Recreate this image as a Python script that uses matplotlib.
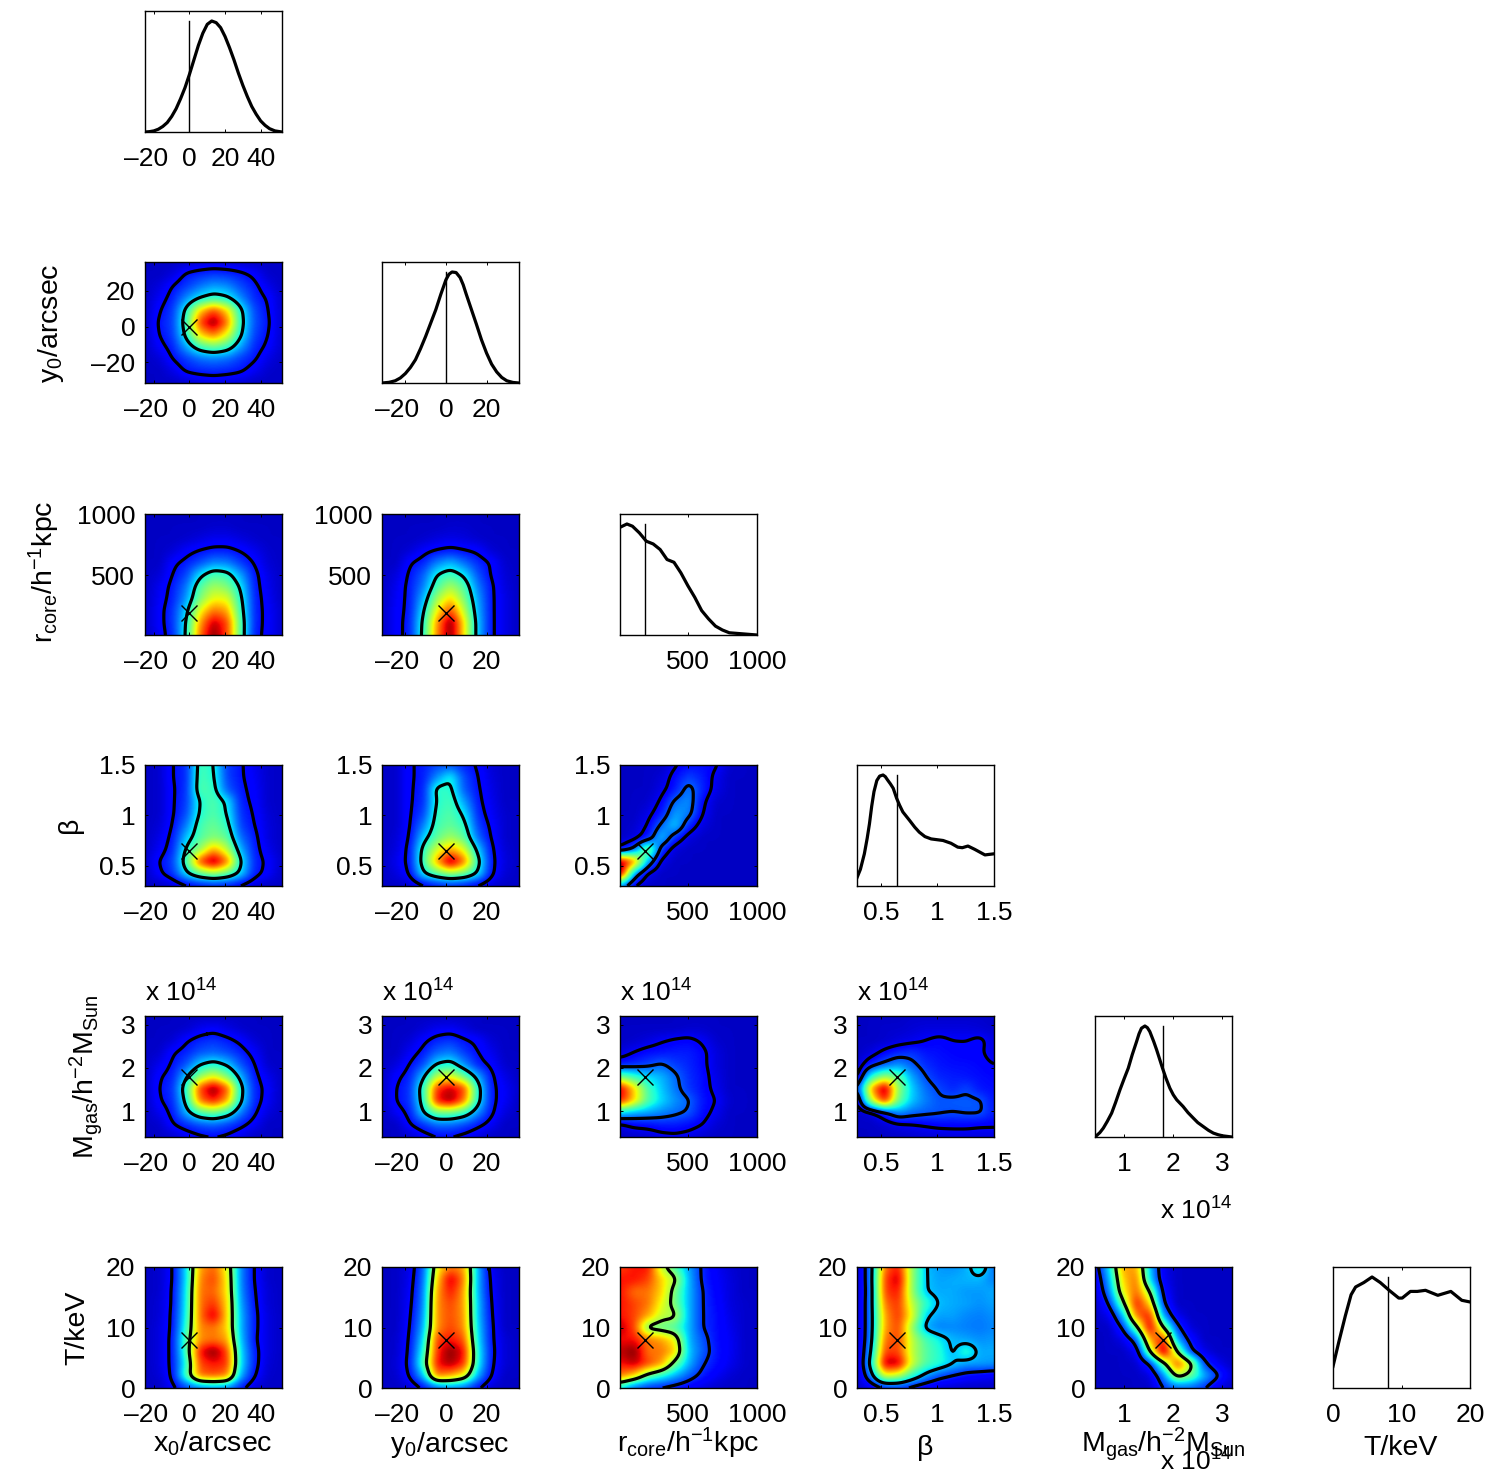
import numpy as np
import matplotlib
matplotlib.use('Agg')
from matplotlib import pyplot as plt
from matplotlib.colors import PowerNorm
from matplotlib.transforms import ScaledTranslation

plt.rcParams['font.family'] = ['Liberation Sans', 'DejaVu Sans']
plt.rcParams['mathtext.fontset'] = 'custom'
plt.rcParams['mathtext.rm'] = 'Liberation Sans'
plt.rcParams['mathtext.default'] = 'regular'

W, H = 1495, 1479
FS = 19
FS_NAME = 20.5

# parameter names, ranges, ticks, true values
names = ['x$_0$/arcsec', 'y$_0$/arcsec', 'r$_{core}$/h$^{-1}$kpc', '\u03b2',
         'M$_{gas}$/h$^{-2}$M$_{Sun}$', 'T/keV']
limits = [(-25, 52), (-31.5, 36), (10, 1000), (0.29, 1.5), (0.4, 3.2), (0, 20)]
ticks = [[-20, 0, 20, 40], [-20, 0, 20], [500, 1000], [0.5, 1, 1.5], [1, 2, 3], [0, 10, 20]]
ticklabels = [['\u201320', '0', '20', '40'], ['\u201320', '0', '20'], ['500', '1000'],
              ['0.5', '1', '1.5'], ['1', '2', '3'], ['0', '10', '20']]
truth = [0, 0, 188, 0.645, 1.78, 8]

# marginals
x0_vals = [-25, -22.5, -20, -17.5, -15, -12.5, -10, -7.5, -5, -2.5, 0, 2.5, 5, 7.5, 10, 12.5, 15, 17.5, 20,
           22.5, 25, 27.5, 30, 32.5, 35, 37.5, 40, 42.5, 45, 48, 52]
x0_prob = [0, .003, .01, .025, .05, .085, .14, .21, .3, .4, .52, .65, .78, .89, .97, 1, .985, .94, .86,
           .76, .65, .53, .42, .32, .23, .16, .1, .06, .03, .01, 0]
y0_vals = [-31.5, -28, -25, -22.5, -20, -17.5, -15, -12.5, -10, -7.5, -5, -2.5, 0, 1.5, 3, 5, 7, 8.5, 10,
           12.5, 15, 17.5, 20, 22.5, 25, 27.5, 30, 33, 36]
y0_prob = [0, .006, .02, .045, .085, .14, .21, .31, .42, .54, .66, .8, .93, .98, 1, .995, .95, .885, .8,
           .665, .53, .39, .27, .17, .1, .05, .02, .005, 0]
r_vals = [10, 60, 100, 150, 200, 250, 300, 350, 400, 450, 500, 550, 600, 650, 700, 750, 800, 900, 1000]
r_prob = [.97, 1, .98, .92, .845, .82, .77, .68, .655, .56, .445, .34, .22, .145, .08, .045, .02, .01, 0]
beta_vals = [.29, .32, .355, .38, .40, .42, .44, .465, .49, .52, .54, .56, .585, .61, .64, .665, .695, .755,
             .80, .84, .89, .945, 1.05, 1.12, 1.18, 1.22, 1.27, 1.33, 1.42, 1.46, 1.5]
beta_prob = [.075, .15, .29, .43, .56, .72, .85, .95, .99, 1, .985, .955, .92, .88, .79, .73, .667, .59,
             .53, .485, .445, .424, .41, .385, .35, .345, .36, .33, .28, .285, .29]
m_vals = [.4, .5, .57, .65, .74, .82, .91, 1, 1.08, 1.16, 1.25, 1.3, 1.35, 1.42, 1.47, 1.52, 1.6, 1.66, 1.78,
          1.85, 1.93, 2, 2.07, 2.2, 2.3, 2.41, 2.5, 2.61, 2.72, 2.82, 2.92, 3.02, 3.2]
m_prob = [0, .04, .08, .14, .215, .31, .425, .53, .62, .74, .86, .93, .98, 1, .985, .95, .86, .785, .62,
          .53, .44, .38, .335, .275, .22, .17, .13, .095, .06, .035, .02, .01, 0]
t_vals = [0, .83, 1.8, 2.64, 3.3, 4.5, 5.7, 6.9, 8.2, 9.6, 10.1, 11.3, 12.3, 13.5, 15.3, 17.2, 18.8, 20]
t_prob = [.195, .41, .65, .84, .91, .95, 1, .95, .88, .81, .81, .87, .87, .88, .835, .87, .79, .775]

marg_x = [x0_vals, y0_vals, r_vals, beta_vals, m_vals, t_vals]
marg_y = [x0_prob, y0_prob, r_prob, beta_prob, m_prob, t_prob]

y0_x0 = [
    [0, 0, 0, .1, .2, .3, .2, .1, 0, 0, 0],
    [0, 0, .3, 1.1, 1.4, 1.6, 1.5, 1.2, .8, .1, 0],
    [0, .3, 1, 1.6, 2.3, 2.8, 2.6, 1.8, 1.2, .5, 0],
    [0, .6, 1.3, 2.6, 3.7, 4.3, 3.9, 2.6, 1.4, .9, .1],
    [0, .9, 1.6, 4, 7, 8.5, 7, 3.9, 1.8, 1, .1],
    [0, 1.1, 1.7, 4.4, 8.5, 10, 8, 4.1, 1.9, 1.1, .1],
    [0, 1, 1.6, 4, 7, 8, 6.5, 3.8, 1.7, 1, .1],
    [0, .7, 1.3, 2.9, 4.4, 5, 4.4, 2.8, 1.4, .8, .1],
    [0, .2, 1, 1.6, 2.2, 2.4, 2.2, 1.6, 1.1, .4, 0],
    [0, 0, .4, 1.1, 1.3, 1.4, 1.3, 1.1, .6, .1, 0],
    [0, 0, 0, .1, .3, .4, .3, .2, 0, 0, 0]]
r_x0 = [
    [0, 0, 0, 0, 0, 0, 0, 0, 0, 0, 0],
    [0, 0, 0, 0, 0, .1, .1, 0, 0, 0, 0],
    [0, 0, 0, .1, .3, .5, .5, .3, .1, 0, 0],
    [0, 0, .2, .7, 1, 1.2, 1.2, .9, .5, .1, 0],
    [0, 0, .8, 1.2, 1.8, 2.5, 2.4, 1.6, .9, .2, 0],
    [0, .2, 1, 1.7, 3.5, 4.5, 4.2, 2.8, 1.2, .4, 0],
    [0, .5, 1.2, 2.3, 4.6, 5.6, 5.2, 3.6, 1.3, .5, 0],
    [0, .6, 1.3, 2.7, 5.2, 6.5, 6.4, 4, 1.4, .6, 0],
    [0, .7, 1.5, 3.4, 6.5, 8, 7.5, 4.3, 1.4, .7, .1],
    [0, .7, 1.5, 3.8, 7.5, 9.5, 8.5, 4.6, 1.4, .7, .1],
    [0, .6, 1.4, 3.9, 8, 10, 8.5, 4.6, 1.3, .7, .1]]
r_y0 = [
    [0, 0, 0, 0, 0, 0, 0, 0, 0, 0, 0],
    [0, 0, 0, 0, 0, .1, .1, 0, 0, 0, 0],
    [0, 0, 0, .1, .3, .4, .3, .1, 0, 0, 0],
    [0, 0, .2, .7, 1, 1.2, 1, .8, .2, 0, 0],
    [0, 0, .9, 1.3, 2.4, 3, 2.2, 1.4, .9, .1, 0],
    [0, .3, 1.1, 2, 3.8, 4.4, 3.6, 1.9, .9, .2, 0],
    [0, .5, 1.2, 2.4, 4.5, 5.7, 4.6, 2.4, 1.1, .3, 0],
    [0, .6, 1.2, 3, 5.6, 7, 5.2, 2.8, 1.1, .4, 0],
    [0, .7, 1.2, 3.6, 6.6, 8.5, 6, 3, 1.1, .4, 0],
    [0, .7, 1.3, 4, 7.6, 10, 6.8, 3.2, 1.1, .4, 0],
    [0, .7, 1.3, 4.1, 7.8, 10, 6.8, 3.2, 1.1, .4, 0]]
beta_x0 = [
    [0, .1, 1, 1.4, 4.4, 3.9, 1.6, 1.1, .5, .1, 0],
    [0, .1, 1, 1.4, 4.5, 4, 1.7, 1.1, .6, .1, 0],
    [0, .1, .9, 1.5, 4.6, 4.2, 2, 1.2, .7, .1, 0],
    [0, .1, .9, 1.6, 3.9, 4.6, 3.6, 1.3, .8, .1, 0],
    [0, .1, .9, 1.8, 4, 4.6, 3.8, 1.5, .9, .2, 0],
    [0, .2, 1, 2.4, 4.4, 4.9, 4.2, 1.7, 1, .3, 0],
    [0, .4, 1.2, 3.2, 4.6, 5.2, 4.8, 2.2, 1.2, .3, 0],
    [0, .6, 1.4, 4, 5.5, 7.5, 6, 3, 1.3, .5, 0],
    [.1, 1, 1.7, 4.5, 8.5, 10, 8, 3.8, 1.4, .8, .1],
    [0, .8, 1.5, 3.5, 4.8, 5.5, 4.8, 3.4, 1.3, .7, 0],
    [0, 0, .2, .7, 1, 1.2, 1.1, .7, .2, 0, 0]]
beta_y0 = [
    [0, .1, .9, 1.2, 1.7, 1.9, 1.3, .9, .2, 0, 0],
    [0, .1, .9, 1.2, 2.6, 3.8, 1.8, 1, .3, 0, 0],
    [0, .1, .9, 1.3, 4.2, 4.1, 2, 1.1, .4, 0, 0],
    [0, .1, .9, 1.4, 4, 4.4, 2.8, 1.2, .5, 0, 0],
    [0, .1, .9, 1.7, 4.2, 4.6, 3.6, 1.4, .6, .1, 0],
    [0, .1, .9, 2.4, 4.4, 4.8, 4.2, 1.7, .8, .1, 0],
    [0, .2, 1, 3.3, 4.8, 5.6, 4.8, 2.2, .9, .1, 0],
    [0, .3, 1.2, 4.2, 6.2, 7.5, 6.4, 3.4, 1.1, .2, 0],
    [0, .5, 1.2, 4.4, 7.5, 10, 8, 4.2, 1.2, .3, 0],
    [0, .3, 1, 3.6, 4.7, 5.5, 5, 3.6, 1.1, .2, 0],
    [0, 0, .1, .7, 1.1, 1.3, 1.1, .7, .2, 0, 0]]
beta_r = [
    [0, 0, 0, 0, .6, 1, 1, .8, .1, 0, 0],
    [0, 0, 0, .2, 1, 1.7, 1.2, .5, 0, 0, 0],
    [0, 0, 0, .4, 1.2, 2.4, 1.3, .4, 0, 0, 0],
    [0, 0, .1, .8, 2.2, 2.6, .9, .1, 0, 0, 0],
    [0, 0, .4, 1.2, 2.8, 2.4, .7, 0, 0, 0, 0],
    [0, .1, .7, 2.2, 3.3, 1.3, .3, 0, 0, 0, 0],
    [0, .3, 1.2, 3.2, 1.4, .3, 0, 0, 0, 0, 0],
    [.9, 2.2, 5.5, 1.5, .2, 0, 0, 0, 0, 0, 0],
    [10, 8, 3, .4, 0, 0, 0, 0, 0, 0, 0],
    [10, 2.8, .5, 0, 0, 0, 0, 0, 0, 0, 0],
    [2.5, .6, 0, 0, 0, 0, 0, 0, 0, 0, 0]]
m_x0 = [
    [0, 0, 0, 0, 0, 0, 0, 0, 0, 0, 0],
    [0, 0, 0, .1, .5, .7, .4, .1, 0, 0, 0],
    [0, 0, .2, .9, 1.3, 1.5, 1.2, .8, .2, 0, 0],
    [0, .1, .9, 1.3, 1.9, 2.1, 1.8, 1.3, .7, 0, 0],
    [0, .5, 1.1, 1.9, 3.4, 4, 3.3, 1.9, 1, .1, 0],
    [0, .9, 1.3, 3.3, 5.5, 6.5, 5.2, 3, 1.2, .5, 0],
    [0, 1, 1.5, 4.3, 8.5, 10, 8.3, 3.8, 1.4, .7, 0],
    [0, .9, 1.4, 3.8, 8, 9, 7.5, 3.6, 1.4, .6, 0],
    [0, .5, 1.2, 3, 4.5, 5, 4.2, 2.4, 1.1, .3, 0],
    [0, .1, .9, 1.4, 1.9, 2.1, 1.7, 1.2, .6, 0, 0],
    [0, 0, .1, .5, .8, .9, .8, .4, 0, 0, 0]]
m_y0 = [
    [0, 0, 0, 0, 0, 0, 0, 0, 0, 0, 0],
    [0, 0, 0, .2, .5, .6, .3, 0, 0, 0, 0],
    [0, 0, .2, .8, 1.3, 1.5, 1.1, .8, .2, 0, 0],
    [0, 0, .6, 1.2, 2.1, 2.4, 1.6, 1, .5, 0, 0],
    [0, .3, 1, 1.8, 3.6, 4, 2.6, 1.3, .8, .1, 0],
    [0, .8, 1.3, 3.2, 6, 6.5, 5, 3, 1.1, .4, 0],
    [0, 1, 1.5, 4.2, 8.7, 9.5, 8.5, 4, 1.2, .6, .1],
    [0, 1, 1.5, 4, 9, 9.8, 8, 3.9, 1.2, .6, 0],
    [0, .6, 1.2, 3.4, 5, 5, 4.3, 2.6, 1.1, .3, 0],
    [0, 0, .9, 1.5, 2.2, 2.2, 1.8, 1.2, .6, 0, 0],
    [0, 0, .1, .6, .9, .9, .7, .3, 0, 0, 0]]
m_r = [
    [0, 0, 0, 0, 0, 0, 0, 0, 0, 0, 0],
    [0, 0, 0, 0, 0, .1, .1, 0, 0, 0, 0],
    [0, .1, .3, .6, .8, .9, .6, .1, 0, 0, 0],
    [.3, .7, 1, 1.1, 1.2, 1.2, .9, .3, 0, 0, 0],
    [1.2, 1.4, 1.7, 2.1, 1.6, 1.3, .9, .3, 0, 0, 0],
    [5, 4.2, 3.4, 3, 2.2, 1.4, 1, .4, 0, 0, 0],
    [9.5, 7, 4.5, 3.2, 2.3, 1.5, 1, .5, 0, 0, 0],
    [9, 7, 4.6, 3.4, 2.6, 2.1, 1.1, .7, .1, 0, 0],
    [3.5, 3, 2.8, 2.5, 2.2, 1.9, 1, .5, 0, 0, 0],
    [.4, .9, 1, 1.2, 1.2, 1, .7, .2, 0, 0, 0],
    [0, 0, .1, .4, .5, .4, .1, 0, 0, 0, 0]]
m_beta = [
    [0, 0, 0, 0, .1, .1, .1, .1, .1, .1, 0],
    [0, 0, .1, .1, .2, .3, .3, .3, .3, .2, .1],
    [0, 0, .1, .3, .45, .7, .9, .7, .7, .9, .3],
    [0, .3, .9, 1.3, 1.5, 1.1, 1, .9, .8, .8, .4],
    [.1, 1.3, 2, 2.6, 2, 1.4, 1.1, 1, 1, .9, .7],
    [.3, 4, 5.5, 4.8, 2.8, 1.8, 1.3, 1.2, 1.1, 1, .9],
    [1.5, 7.5, 10, 5.5, 3.3, 2.2, 1.7, 1.3, 1.7, 1.1, 1],
    [.4, 6, 9, 5, 3.2, 2.4, 1.9, 2, 2, 1.9, 1.1],
    [.1, .3, 1.3, 2.6, 2.2, 2, 1.9, 1.8, 1.9, 1.9, 1.2],
    [0, 0, .2, .5, .6, .75, .9, .9, .9, .8, .8],
    [0, 0, 0, 0, .1, .2, .2, .3, .3, .3, .3]]
t_x0 = [
    [0, .1, .9, 3.5, 7.5, 8.2, 6.5, 2.5, .9, .1, 0],
    [0, .1, .9, 3.5, 7.8, 8.5, 6.7, 2.5, .9, .1, 0],
    [0, .1, 1, 3.7, 8, 8.2, 6.8, 2.6, 1, .2, 0],
    [0, .2, 1, 3.8, 8, 8.7, 7, 2.8, 1.1, .2, 0],
    [0, .2, 1.1, 3.9, 8, 9.5, 7, 3, 1.2, .3, 0],
    [0, .3, 1.1, 4.2, 7.8, 8, 7, 3, 1.2, .3, 0],
    [0, .3, 1.2, 4.7, 7.7, 8, 7.5, 3.2, 1.1, .3, 0],
    [0, .3, 1.2, 4.5, 9, 10, 8.5, 3.5, 1.3, .3, 0],
    [0, .3, 1.2, 4, 8.5, 9, 8.7, 3.6, 1.3, .2, 0],
    [0, .2, 1.1, 4.5, 8, 8.3, 7.8, 3, 1, .1, 0],
    [0, 0, .7, 1.6, 2.2, 2.5, 2.3, 1.2, .2, 0, 0]]
t_y0 = [
    [0, 0, .4, 2, 6.5, 8, 7.5, 3, .5, 0, 0],
    [0, 0, .5, 2.2, 7, 9.5, 7.8, 3, .7, 0, 0],
    [0, 0, .6, 2.4, 7.5, 9, 7.5, 3, .8, 0, 0],
    [0, 0, .7, 2.5, 7.7, 8.5, 7.5, 3.2, .9, 0, 0],
    [0, 0, .8, 2.7, 7.7, 8.4, 7.6, 3.2, 1, 0, 0],
    [0, 0, .9, 3, 7.7, 8.5, 7.7, 3.4, 1.1, 0, 0],
    [0, .1, 1, 3.5, 8.5, 9, 8.3, 3.6, 1.1, .2, 0],
    [0, .1, 1.1, 4, 8.7, 10, 9, 3.9, 1.2, .2, 0],
    [0, .2, 1.2, 4.5, 9, 9.7, 8.7, 3.9, 1.1, .2, 0],
    [0, .1, 1, 3.2, 8, 7.5, 6.5, 3, .9, 0, 0],
    [0, 0, .2, 1, 1.9, 2.4, 2, 1, .1, 0, 0]]
t_r = [
    [8.5, 9, 9, 6, 4.5, 2.8, 1.3, .6, .2, 0, 0],
    [9, 9, 8.5, 7, 5.8, 3, 1.3, .7, .3, 0, 0],
    [9, 8, 8, 7, 5, 3, 1.5, .8, .3, 0, 0],
    [9, 8.5, 8, 6.5, 5, 3, 1.5, .9, .3, .1, 0],
    [9, 8.5, 7.5, 6, 5.8, 3, 1.5, 1, .4, .1, 0],
    [9.5, 8.5, 5, 4.8, 4.5, 3, 1.5, 1, .5, .1, 0],
    [9, 9, 8, 7.5, 6.5, 3, 1.9, 1, .6, .1, 0],
    [9.5, 10, 8, 8, 7, 3.2, 2, 1.1, .6, .1, 0],
    [9, 9.5, 8.5, 7.5, 5, 3, 1.6, 1, .5, .1, 0],
    [8, 7, 5, 4, 3, 2, 1.2, .6, .2, 0, 0],
    [3.5, 2, 1.4, 1.2, 1, .7, .3, .1, 0, 0, 0]]
t_beta = [
    [0, 2.5, 8, 9, 5.5, 3.2, 2.7, 2.6, 2.9, 4, 2.2],
    [0, 2.5, 8.5, 9.5, 5.5, 3.2, 2.8, 2.9, 3, 3, 2.4],
    [0, 2.4, 8.5, 9, 5.5, 3.2, 2.9, 2.9, 2.7, 2.7, 2.9],
    [0, 2.5, 8, 8.7, 6, 4.2, 3.1, 2.9, 2.8, 2.6, 2.8],
    [0, 2.5, 7.5, 8.7, 6.5, 3.4, 2.8, 2.8, 2.5, 2.4, 2.6],
    [0, 2.5, 7.5, 8.5, 5.5, 2.9, 2.4, 2.5, 2.4, 2.3, 2.5],
    [0, 2.6, 8, 8.5, 6, 4.5, 3.7, 3, 2.8, 2.6, 2.7],
    [0, 3, 8.5, 8.5, 6, 4.7, 4, 3, 4.2, 2.9, 2.9],
    [0, 3.5, 9.5, 9.5, 6.2, 4.6, 4, 3.3, 2.8, 2.8, 2.7],
    [0, 2.5, 6.5, 6, 4.2, 2.8, 1.9, 1.4, 1, .8, .6],
    [0, .5, 1.2, 1.4, 1, .6, .2, .1, 0, 0, 0]]
t_m = [
    [.8, 3.5, 7.5, 7.5, 3.2, .5, 0, 0, 0, 0, 0],
    [.4, 3, 7, 8, 3.5, .6, 0, 0, 0, 0, 0],
    [.2, 2.4, 6.5, 8.2, 5.5, 1, 0, 0, 0, 0, 0],
    [0, 1.5, 5, 9, 7, 1.5, 0, 0, 0, 0, 0],
    [0, .5, 3, 8, 9, 2.8, .5, 0, 0, 0, 0],
    [0, 0, 1.5, 5, 9.5, 5.5, 1.8, .2, 0, 0, 0],
    [0, 0, .4, 2, 7.5, 9, 3, 1, 0, 0, 0],
    [0, 0, 0, .6, 5.5, 10, 5.5, 1.7, .4, 0, 0],
    [0, 0, 0, .1, 1.5, 5, 8.5, 6, 1.7, .5, 0],
    [0, 0, 0, 0, .3, 2.5, 6, 5, 3, 1.6, .3],
    [0, 0, 0, 0, 0, 1.5, 2, 2, 1.5, .3, 0]]

# row, col, grid, contour levels
panels = [(1, 0, y0_x0, [1, 3.7]),
          (2, 0, r_x0, [1, 3.8]), (2, 1, r_y0, [1, 3.8]),
          (3, 0, beta_x0, [1, 3.8]), (3, 1, beta_y0, [1, 3.8]), (3, 2, beta_r, [.7, 2]),
          (4, 0, m_x0, [1, 3.5]), (4, 1, m_y0, [1, 3.5]), (4, 2, m_r, [.7, 2]), (4, 3, m_beta, [.7, 1.8]),
          (5, 0, t_x0, [1, 5.5]), (5, 1, t_y0, [1, 5.5]), (5, 2, t_r, [1.5, 5.5]),
          (5, 3, t_beta, [1.5, 3.2]), (5, 4, t_m, [1.5, 5.5])]

col_left = [145, 382, 620, 857, 1095, 1333]
row_top = [11, 262, 514, 765, 1016, 1267]
PW, PH = 137, 121


def upsample(grid, n=121):
    grid = np.array(grid, dtype=float)
    old = np.linspace(0, 1, grid.shape[0])
    new = np.linspace(0, 1, n)
    z = np.array([np.interp(new, old, c) for c in grid.T]).T
    z = np.array([np.interp(new, old, r) for r in z])
    # soften the linear grid a bit
    k = np.ones(7) / 7
    for axis in (0, 1):
        for _ in range(2):
            padded = np.pad(z, ((3, 3), (0, 0)) if axis == 0 else ((0, 0), (3, 3)), mode='edge')
            z = np.apply_along_axis(lambda m: np.convolve(m, k, mode='valid'), axis, padded)
    return z


def make_axes(row, col):
    return fig.add_axes([col_left[col] / W, 1 - (row_top[row] + PH) / H, PW / W, PH / H])


def style_axes(ax):
    ax.tick_params(direction='in', length=2.5, width=0.7, top=True, right=True, labelsize=FS)
    ax.tick_params(axis='x', pad=11)
    ax.tick_params(axis='y', pad=7)
    for s in ax.spines.values():
        s.set_linewidth(1.0)


def set_ticks(ax, i, axis):
    if axis == 'x':
        ax.set_xticks(ticks[i])
        labels = ax.set_xticklabels(ticklabels[i])
        for lab in labels:
            if lab.get_text().startswith('\u2013'):
                lab.set_transform(lab.get_transform() + ScaledTranslation(-8 / 100, 0, fig.dpi_scale_trans))
    else:
        ax.set_yticks(ticks[i])
        ax.set_yticklabels(ticklabels[i])


def ftext(x, y, s, size=FS, **kw):
    fig.text(x / W, 1 - y / H, s, fontsize=size, **kw)


fig = plt.figure(figsize=(W / 100, H / 100), dpi=100)

# diagonal
for i in range(6):
    ax = make_axes(i, i)
    ax.plot(marg_x[i], marg_y[i], color='k', linewidth=2.3)
    ax.plot([truth[i], truth[i]], [0, 1], color='k', linewidth=1.0)
    ax.set_xlim(limits[i])
    ax.set_ylim(0, 1.09)
    ax.set_yticks([])
    style_axes(ax)
    set_ticks(ax, i, 'x')

# 2D panels
for row, col, grid, levels in panels:
    ax = make_axes(row, col)
    xmin, xmax = limits[col]
    ymin, ymax = limits[row]
    if row == 3:
        ymin = 0.3
    z = upsample(grid)
    xx = np.linspace(xmin, xmax, z.shape[1])
    yy = np.linspace(ymax, ymin, z.shape[0])
    ax.imshow(z, extent=[xmin, xmax, ymin, ymax], origin='upper', aspect='auto',
              cmap='jet', norm=PowerNorm(gamma=1.2, vmin=-1.1, vmax=10), interpolation='bilinear')
    ax.contour(xx, yy, z, levels=levels, colors='k', linewidths=2.3)
    ax.plot(truth[col], truth[row], 'x', color='k', markersize=11.5, markeredgewidth=1.0)
    ax.set_xlim(xmin, xmax)
    ax.set_ylim(ymin, ymax)
    style_axes(ax)
    set_ticks(ax, col, 'x')
    set_ticks(ax, row, 'y')

# multiplier labels
for col in range(4):
    ftext(col_left[col], 1002, 'x 10$^{14}$', ha='left', va='baseline')
ftext(1232, 1220, 'x 10$^{14}$', ha='right', va='baseline')
ftext(1232, 1471, 'x 10$^{14}$', ha='right', va='baseline')

# axis names
xlabel_x = [213, 450, 688, 925, 1163, 1401]
xlabel_y = [1452, 1452, 1452, 1455, 1452, 1455]
for i in range(6):
    ftext(xlabel_x[i], xlabel_y[i], names[i], size=FS_NAME, ha='center', va='baseline')

ylabel_x = [None, 51, 44, 70, 86, 77]
ylabel_y = [None, 323, 572, 825, 1077, 1328]
for i in range(1, 6):
    ftext(ylabel_x[i], ylabel_y[i], names[i], size=FS_NAME, ha='center', va='center', rotation=90)

fig.savefig('out.png', dpi=100)
